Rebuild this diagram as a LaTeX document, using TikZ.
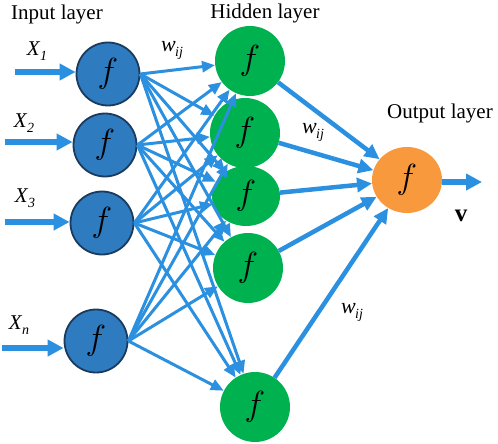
\documentclass[tikz,border=0pt]{standalone}
\usepackage{graphicx}
\usepackage{fontspec}
\setmainfont{Liberation Serif}
\usetikzlibrary{arrows.meta,shapes.geometric}
\definecolor{inblue}{HTML}{2E7BC0}
\definecolor{inborder}{HTML}{1A3A5E}
\definecolor{hgreen}{HTML}{00B14F}
\definecolor{oorange}{HTML}{F8993E}
\definecolor{arrblue}{HTML}{2A90DF}
\newcommand\mysub[2]{\textit{#1}\kern-0.5pt\raisebox{-5pt}{\fontsize{14}{14}\selectfont\textit{#2}}}
\newcommand\ff{\scalebox{1.4}{$f$}}
\begin{document}
\begin{tikzpicture}[x=1pt,y=-1pt,
  ffont/.style={font=\fontsize{24.88}{26}\selectfont},
  innode/.style={circle,fill=inblue,draw=inborder,line width=1.8pt,minimum size=63pt,inner sep=0pt,ffont},
  hidnode/.style={circle,fill=hgreen,minimum size=70pt,inner sep=0pt,ffont},
  hidell/.style={ellipse,fill=hgreen,minimum width=68pt,minimum height=60pt,inner sep=0pt,ffont},
  outnode/.style={ellipse,fill=oorange,minimum width=70pt,minimum height=66pt,inner sep=0pt,ffont},
  inarrow/.style={draw=arrblue,line width=6pt,-{Triangle[length=16pt,width=16pt]}},
  conn/.style={draw=arrblue,line width=3pt,-{Triangle[length=13pt,width=11pt]}},
  outconn/.style={draw=arrblue,line width=4.5pt,-{Triangle[length=15pt,width=14pt]}},
  lbl/.style={font=\fontsize{21}{21}\selectfont,inner sep=0pt},
  wlbl/.style={font=\fontsize{22}{22}\selectfont,inner sep=0pt}
]
\useasboundingbox (0,0) rectangle (498,444);

% nodes
\node[innode] (I1) at (108,74) {\ff};
\node[innode] (I2) at (105,145) {\ff};
\node[innode] (I3) at (102,223) {\ff};
\node[innode] (In) at (96,341) {\ff};

\node[hidnode] (H1) at (250,61) {\ff};
\node[hidnode] (H2) at (245,133) {\ff};
\node[hidell] (H3) at (246,196) {\ff};
\node[hidnode] (H4) at (248,268) {\ff};
\node[hidnode] (H5) at (255,407) {\ff};

\node[outnode] (O) at (407,180) {\ff};

% labels
\node[lbl] (tin) at (57,14) {Input layer};
\node[lbl] (thid) at (265,13) {Hidden layer};
\node[lbl] (tout) at (440,113) {Output layer};

\node[lbl] (x1) at (37,51) {\mysub{X}{1}};
\node[lbl] (x2) at (24,123) {\mysub{X}{2}};
\node[lbl] (x3) at (25,198) {\mysub{X}{3}};
\node[lbl] (xn) at (19,325) {\mysub{X}{n}};

\node[wlbl] (w1) at (172,50) {\mysub{w}{ij}};
\node[wlbl] (w2) at (313,132) {\mysub{w}{ij}};
\node[wlbl] (w3) at (352,312) {\mysub{w}{ij}};

\node[lbl,font=\fontsize{25}{25}\selectfont] (v) at (461,216) {\textbf{v}};

% input arrows
\coordinate (s1) at (15,72);
\coordinate (s2) at (5,142);
\coordinate (s3) at (5,222);
\coordinate (sn) at (2,348);
\draw[inarrow] (s1) -- (s1 -| I1.west);
\draw[inarrow] (s2) -- (s2 -| I2.west);
\draw[inarrow] (s3) -- (s3 -| I3.west);
\draw[inarrow] (sn) -- (sn -| In.west);

% input -> hidden
\foreach \i in {I1,I2,I3,In}{
  \foreach \h in {H1,H2,H3,H4,H5}{
    \draw[conn] (\i.east) -- (\h);
  }
}

% hidden -> output
\foreach \h in {H1,H2,H3,H4,H5}{
  \draw[outconn] (\h) -- (O);
}

% output arrow
\coordinate (e) at (482,182);
\draw[inarrow] (e -| O.east) -- (e);
\end{tikzpicture}
\end{document}
